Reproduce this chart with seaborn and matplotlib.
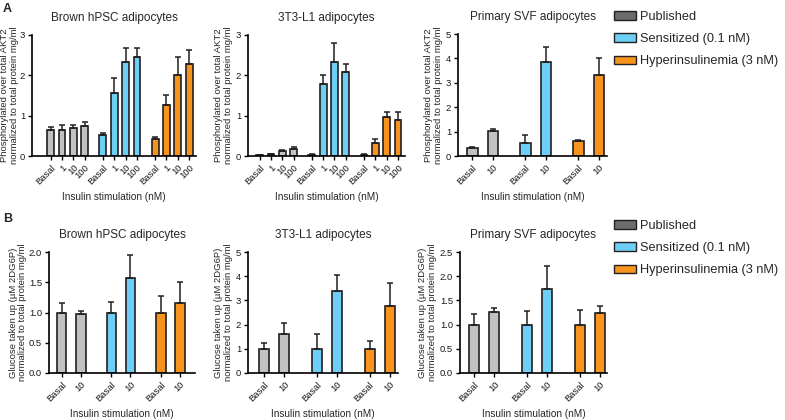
import matplotlib.pyplot as plt
import seaborn as sns
import pandas as pd
from matplotlib.patches import Patch

# groups and colours
groups = ['Published', 'Sensitized (0.1 nM)', 'Hyperinsulinemia (3 nM)']
bar_colors = ['#c1c1c1', '#6dcff6', '#f7941d']
legend_colors = ['#6b6c6e', '#6dcff6', '#f7941d']

doses_4 = ['Basal', '1', '10', '100']
doses_2 = ['Basal', '10']

# A: phosphorylated AKT2 (mean, upper error), rows = groups
brown_akt_mean = [[0.65, 0.65, 0.69, 0.75], [0.51, 1.55, 2.33, 2.46], [0.42, 1.27, 2.02, 2.27]]
brown_akt_err = [[0.07, 0.11, 0.09, 0.10], [0.05, 0.39, 0.35, 0.22], [0.05, 0.25, 0.43, 0.35]]
l1_akt_mean = [[0.02, 0.05, 0.13, 0.18], [0.02, 1.79, 2.33, 2.08], [0.02, 0.32, 0.97, 0.89]]
l1_akt_err = [[0.01, 0.01, 0.03, 0.05], [0.04, 0.22, 0.48, 0.20], [0.02, 0.11, 0.11, 0.19]]
svf_akt_mean = [[0.33, 1.03], [0.55, 3.85], [0.60, 3.32]]
svf_akt_err = [[0.04, 0.09], [0.33, 0.63], [0.05, 0.68]]

# B: glucose uptake
brown_glu_mean = [[1.0, 0.98], [1.0, 1.57], [1.0, 1.16]]
brown_glu_err = [[0.15, 0.05], [0.18, 0.38], [0.27, 0.35]]
l1_glu_mean = [[1.0, 1.63], [1.0, 3.40], [1.0, 2.78]]
l1_glu_err = [[0.23, 0.42], [0.60, 0.65], [0.33, 0.94]]
svf_glu_mean = [[1.0, 1.26], [1.0, 1.73], [1.0, 1.25]]
svf_glu_err = [[0.22, 0.09], [0.28, 0.48], [0.30, 0.13]]

akt_ylabel = 'Phosphorylated over total AKT2\nnormalized to total protein mg/ml'
glu_ylabel = 'Glucose taken up (\u00b5M 2DG6P)\nnormalized to total protein mg/ml'

sns.set_theme(style='ticks')
plt.rcParams['font.family'] = ['Liberation Sans', 'DejaVu Sans']

W, H = 785, 420
fig = plt.figure(figsize=(W / 100, H / 100), dpi=100)
GAP = 0.6
EDGE = '#231f20'


def px_axes(x0, y0, x1, y1):
    return fig.add_axes([x0 / W, 1 - y1 / H, (x1 - x0) / W, (y1 - y0) / H])


def draw_panel(ax, doses, means, errs, title, ylabel, yticks, fmt, xlim, width, ypad=2):
    n = len(doses)
    rows = []
    for g, grp in enumerate(groups):
        for i, d in enumerate(doses):
            rows.append({'pos': g * (n + GAP) + i, 'group': grp, 'dose': d,
                         'mean': means[g][i], 'err': errs[g][i]})
    df = pd.DataFrame(rows)
    sns.barplot(data=df, x='pos', y='mean', hue='group', hue_order=groups,
                palette=dict(zip(groups, bar_colors)), native_scale=True,
                dodge=False, width=width, edgecolor=EDGE, linewidth=1.2,
                saturation=1, errorbar=None, legend=False, ax=ax)
    ax.errorbar(df['pos'], df['mean'], yerr=[[0] * len(df), df['err']], fmt='none',
                ecolor=EDGE, elinewidth=1.1, capsize=2.5, capthick=1.1, zorder=1)
    ax.set_xticks(df['pos'])
    ax.set_xticklabels(df['dose'], rotation=45, ha='right', rotation_mode='anchor',
                       fontsize=6.8)
    ax.set_xlim(*xlim)
    ax.set_ylim(yticks[0], yticks[-1])
    ax.set_yticks(yticks)
    ax.set_yticklabels([fmt.format(t) for t in yticks], fontsize=6.8)
    ax.set_title(title, fontsize=8.5, pad=10)
    ax.set_ylabel(ylabel, fontsize=6.8, labelpad=ypad, linespacing=1.1)
    ax.set_xlabel('Insulin stimulation (nM)', fontsize=7.2, labelpad=4)
    sns.despine(ax=ax)
    for s in ('left', 'bottom'):
        ax.spines[s].set_linewidth(1.2)
        ax.spines[s].set_color('black')
    ax.tick_params(length=3, width=1, color='black', pad=2, labelcolor='#1a1a1a')


ax = px_axes(32, 35, 196, 156)
draw_panel(ax, doses_4, brown_akt_mean, brown_akt_err, 'Brown hPSC adipocytes', akt_ylabel,
           [0, 1, 2, 3], '{:g}', (-1.64, 12.8), 0.6, ypad=0.5)
ax = px_axes(248, 35, 405, 156)
draw_panel(ax, doses_4, l1_akt_mean, l1_akt_err, '3T3-L1 adipocytes', akt_ylabel,
           [0, 1, 2, 3], '{:g}', (-1.03, 12.82), 0.6)
ax = px_axes(458, 34, 607, 156)
draw_panel(ax, doses_2, svf_akt_mean, svf_akt_err, 'Primary SVF adipocytes', akt_ylabel,
           [0, 1, 2, 3, 4, 5], '{:g}', (-0.71, 6.6), 0.5)

ax = px_axes(49, 252, 195, 373)
draw_panel(ax, doses_2, brown_glu_mean, brown_glu_err, 'Brown hPSC adipocytes', glu_ylabel,
           [0, 0.5, 1.0, 1.5, 2.0], '{:.1f}', (-0.66, 6.98), 0.5, ypad=1)
ax = px_axes(248, 252, 398, 373)
draw_panel(ax, doses_2, l1_glu_mean, l1_glu_err, '3T3-L1 adipocytes', glu_ylabel,
           [0, 1, 2, 3, 4, 5], '{:g}', (-0.79, 6.6), 0.5)
ax = px_axes(460, 252, 607, 373)
draw_panel(ax, doses_2, svf_glu_mean, svf_glu_err, 'Primary SVF adipocytes', glu_ylabel,
           [0, 0.5, 1.0, 1.5, 2.0, 2.5], '{:.1f}', (-0.69, 6.54), 0.5)

fig.text(3 / W, 1 - 3 / H, 'A', fontsize=9, fontweight='bold', va='top')
fig.text(3 / W, 1 - 213 / H, 'B', fontsize=9, fontweight='bold', va='top')

handles = [Patch(facecolor=c, edgecolor=EDGE, linewidth=1.0) for c in legend_colors]
for top in (11, 220):
    fig.legend(handles, groups, loc='upper left', bbox_to_anchor=(614 / W, 1 - top / H),
               frameon=False, fontsize=9.2, handlelength=1.75, handleheight=0.65,
               handletextpad=0.3, labelspacing=0.8, borderpad=0, borderaxespad=0)

fig.savefig('out.png', dpi=100)
